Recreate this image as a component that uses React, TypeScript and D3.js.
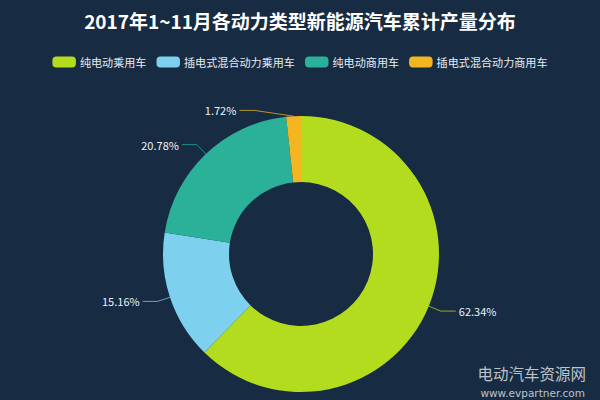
import React from 'react';
import * as d3 from 'd3';

const title = '2017年1~11月各动力类型新能源汽车累计产量分布';
const categories = ['纯电动乘用车', '插电式混合动力乘用车', '纯电动商用车', '插电式混合动力商用车'];
const values = [62.34, 15.16, 20.78, 1.72];
const colors = ['#b4dc1e', '#7dd0ee', '#2bb09a', '#f3b621'];

const W = 600;
const H = 400;
const BG = '#172b43';
const FONT = '"Noto Sans CJK SC", "Noto Sans", sans-serif';

export default function App() {
  const cx = 301;
  const cy = 254;
  const rOuter = 138;
  const rInner = 72;

  const pie = d3.pie<number>().sort(null).value((d) => d)(values);
  const arc = d3.arc<d3.PieArcDatum<number>>().innerRadius(rInner).outerRadius(rOuter);

  // legend layout
  const lgFont = 11.1;
  const rectW = 23.5;
  const rectH = 11;
  const textGap = 4;
  const itemGap = 10;
  const itemWidths = categories.map((c) => rectW + textGap + c.length * lgFont);
  const totalW = d3.sum(itemWidths) + itemGap * (categories.length - 1);
  let lx = W / 2 - totalW / 2;
  const legendY = 62;
  const legendItems = categories.map((c, i) => {
    const x = lx;
    lx += itemWidths[i] + itemGap;
    return { c, x, color: colors[i] };
  });

  // label layout
  const minVert = (18 * Math.PI) / 180;
  const elbowR = rOuter + 13;
  const len2 = 15;
  const labels = pie.map((d, i) => {
    const mid = (d.startAngle + d.endAngle) / 2;
    let a = mid % (2 * Math.PI);
    // keep labels away from the vertical axis
    if (a < minVert) a = minVert;
    else if (a > 2 * Math.PI - minVert) a = 2 * Math.PI - minVert;
    else if (Math.abs(a - Math.PI) < minVert) a = a < Math.PI ? Math.PI - minVert : Math.PI + minVert;
    const p0 = [cx + rOuter * Math.sin(mid), cy - rOuter * Math.cos(mid)];
    const p1 = [cx + elbowR * Math.sin(a), cy - elbowR * Math.cos(a)];
    const right = Math.sin(a) > 0;
    const p2 = [p1[0] + (right ? len2 : -len2), p1[1]];
    return {
      pts: [p0, p1, p2],
      tx: p2[0] + (right ? 3 : -3),
      ty: p2[1],
      anchor: right ? 'start' : 'end',
      text: values[i].toFixed(2) + '%',
      color: colors[i],
    };
  });

  return (
    <svg
      width={W}
      height={H}
      style={{ position: 'absolute', left: 0, top: 0, display: 'block' }}
      fontFamily={FONT}
    >
      <rect x={0} y={0} width={W} height={H} fill={BG} />
      <text x={W / 2} y={29} textAnchor="middle" fill="#ffffff" fontSize={19} fontWeight="bold">
        {title}
      </text>
      <g>
        {legendItems.map((it, i) => (
          <g key={i}>
            <rect x={it.x} y={legendY - rectH / 2} width={rectW} height={rectH} rx={4} ry={4} fill={it.color} />
            <text
              x={it.x + rectW + textGap}
              y={legendY}
              dominantBaseline="central"
              fontSize={lgFont}
              fill="#e6ebf0"
            >
              {it.c}
            </text>
          </g>
        ))}
      </g>
      <g transform={`translate(${cx},${cy})`}>
        {pie.map((d, i) => (
          <path key={i} d={arc(d) || ''} fill={colors[i]} />
        ))}
      </g>
      <g>
        {labels.map((l, i) => (
          <g key={i}>
            <polyline
              points={l.pts.map((p) => p.join(',')).join(' ')}
              fill="none"
              stroke={l.color}
              strokeWidth={1}
              strokeOpacity={0.75}
            />
            <text
              x={l.tx}
              y={l.ty}
              textAnchor={l.anchor as any}
              dominantBaseline="central"
              fontSize={11}
              fill="#eef2f6"
            >
              {l.text}
            </text>
          </g>
        ))}
      </g>
      <g fill="#ffffff" fillOpacity={0.72}>
        <text x={586} y={380} textAnchor="end" fontSize={15.5}>
          电动汽车资源网
        </text>
        <text x={585} y={397} textAnchor="end" fontSize={10.5} fontFamily='"DejaVu Sans", sans-serif'>
          www.evpartner.com
        </text>
      </g>
    </svg>
  );
}
